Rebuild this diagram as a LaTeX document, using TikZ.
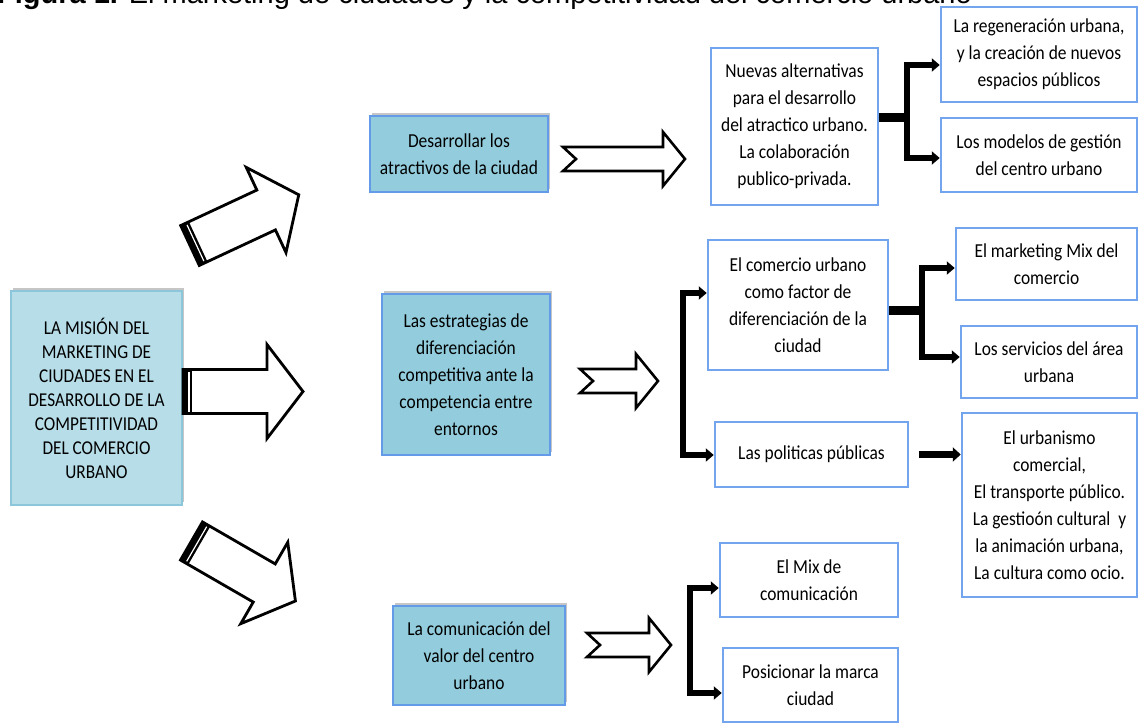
\documentclass[tikz,border=0pt]{standalone}
\usepackage{fontspec}
\setmainfont{Carlito}[FakeStretch=0.88]
\newfontfamily\titlefont{Liberation Sans}
\usetikzlibrary{arrows.meta,shadows}

\definecolor{misionfill}{RGB}{183,221,232}
\definecolor{misionline}{RGB}{140,198,218}
\definecolor{nivelfill}{RGB}{147,205,221}
\definecolor{nivelline}{RGB}{100,155,232}
\definecolor{boxline}{RGB}{115,165,238}

\tikzset{
  bigarrow/.pic={
    \fill[white] (0,-22) -- (84,-22) -- (84,-47) -- (120,0) -- (84,47) -- (84,22) -- (0,22) -- cycle;
    \fill[black] (0,-22) rectangle (9,22);
    \draw[white, line width=1.2pt] (6,-20) -- (6,20);
    \draw[line width=2.8pt, line join=miter] (0,-22) -- (84,-22) -- (84,-47) -- (120,0) -- (84,47) -- (84,22) -- (0,22) -- cycle;
  },
  notched/.pic={
    \draw[line width=2.6pt, line join=miter, fill=white] (0,-12) -- (#1-22,-12) -- (#1-22,-27) -- (#1,0) -- (#1-22,27) -- (#1-22,12) -- (0,12) -- (13,0) -- cycle;
  }
}

\begin{document}
\begin{tikzpicture}[x=1pt, y=-1pt,
  mainbox/.style={draw=misionline, line width=2pt, fill=misionfill, align=center, inner sep=0pt,
    font=\fontsize{19.6}{24}\selectfont, drop shadow={shadow xshift=2pt, shadow yshift=3pt, opacity=0.45}},
  nivel/.style={draw=nivelline, line width=2.5pt, fill=nivelfill, align=center, inner sep=0pt,
    font=\fontsize{19.8}{27}\selectfont, drop shadow={shadow xshift=2pt, shadow yshift=3pt, opacity=0.45}},
  box/.style={draw=boxline, line width=2.5pt, fill=white, align=center, inner sep=0pt,
    font=\fontsize{19.8}{27}\selectfont},
  branch/.style={line width=5.5pt, line join=miter, {Triangle[length=8pt,width=13pt]}-{Triangle[length=8pt,width=13pt]}},
  single/.style={line width=6.5pt, -{Triangle[length=8pt,width=14pt]}, shorten <=10pt},
  stem/.style={line width=9pt}]

\useasboundingbox (0,0) rectangle (1140,725);
\clip (0,0) rectangle (1140,725);

\node[anchor=base west, inner sep=0pt, font=\titlefont\fontsize{29}{30}\selectfont] (titulo) at (-3,3.5)
  {\textbf{Figura 1.} El marketing de ciudades y la competitividad del comercio urbano};

\node[mainbox, minimum width=171pt, minimum height=214pt] (mision) at (96.5,398)
  {LA MISIÓN DEL\\MARKETING DE\\CIUDADES EN EL\\DESARROLLO DE LA\\COMPETITIVIDAD\\DEL COMERCIO\\URBANO};

\node[nivel, minimum width=178pt, minimum height=76pt] (desarrollar) at (459,154)
  {Desarrollar los\\atractivos de la ciudad};
\node[nivel, minimum width=168pt, minimum height=161pt] (estrategias) at (466,374.5)
  {Las estrategias de\\diferenciación\\competitiva ante la\\competencia entre\\entornos};
\node[nivel, minimum width=172pt, minimum height=99pt] (comunicacion) at (479,655.5)
  {La comunicación del\\valor del centro\\urbano};

\node[box, minimum width=167pt, minimum height=157pt] (nuevas) at (794.5,126.5)
  {Nuevas alternativas\\para el desarrollo\\del atractico urbano.\\La colaboración\\publico-privada.};
\node[box, minimum width=196pt, minimum height=95pt] (regeneracion) at (1039,54.5)
  {La regeneración urbana,\\y la creación de nuevos\\espacios públicos};
\node[box, minimum width=196pt, minimum height=74pt] (modelos) at (1039,155)
  {Los modelos de gestión\\del centro urbano};

\node[box, minimum width=180pt, minimum height=130pt] (comercio) at (798,305)
  {El comercio urbano\\como factor de\\diferenciación de la\\ciudad};
\node[box, minimum width=181pt, minimum height=72pt] (mktmix) at (1046.5,264)
  {El marketing Mix del\\comercio};
\node[box, minimum width=176pt, minimum height=72pt] (servicios) at (1049,362)
  {Los servicios del área\\urbana};
\node[box, minimum width=193pt, minimum height=65pt] (politicas) at (811.5,454.5)
  {Las politicas públicas};
\node[box, minimum width=175pt, minimum height=184pt] (urbanismo) at (1049.5,505)
  {El urbanismo\\comercial,\\El transporte público.\\La gestioón cultural\ \ y\\la animación urbana,\\La cultura como ocio.};

\node[box, minimum width=178pt, minimum height=74pt] (mixcom) at (809,580)
  {El Mix de\\comunicación};
\node[box, minimum width=175pt, minimum height=74pt] (posicionar) at (810.5,685)
  {Posicionar la marca\\ciudad};

% flechas grandes
\pic[rotate=25] at (190,245.5) {bigarrow};
\pic at (183,391.5) {bigarrow};
\pic[rotate=-30] at (191.5,541) {bigarrow};

% flechas con muesca
\pic at (563,159) {notched=122};
\pic at (580,381) {notched=78};
\pic at (587,645) {notched=84};

% llaves
\coordinate (b1) at (907,117);
\coordinate (b1t) at (907,65);
\coordinate (b1b) at (907,158);
\draw[stem] (nuevas.east |- b1) -- (b1);
\draw[branch] (regeneracion.west |- b1t) -- (b1t) -- (b1b) -- (modelos.west |- b1b);

\coordinate (b2t) at (683,293);
\coordinate (b2b) at (683,455);
\draw[branch] (comercio.west |- b2t) -- (b2t) -- (b2b) -- (politicas.west |- b2b);

\coordinate (b3) at (922,310);
\coordinate (b3t) at (922,268);
\coordinate (b3b) at (922,357);
\draw[stem] (comercio.east |- b3) -- (b3);
\draw[branch] (mktmix.west |- b3t) -- (b3t) -- (b3b) -- (servicios.west |- b3b);

\draw[single] (politicas.east) -- (urbanismo.west |- politicas.east);

\coordinate (b4t) at (690,588);
\coordinate (b4b) at (690,693);
\draw[branch] (mixcom.west |- b4t) -- (b4t) -- (b4b) -- (posicionar.west |- b4b);

\end{tikzpicture}
\end{document}
